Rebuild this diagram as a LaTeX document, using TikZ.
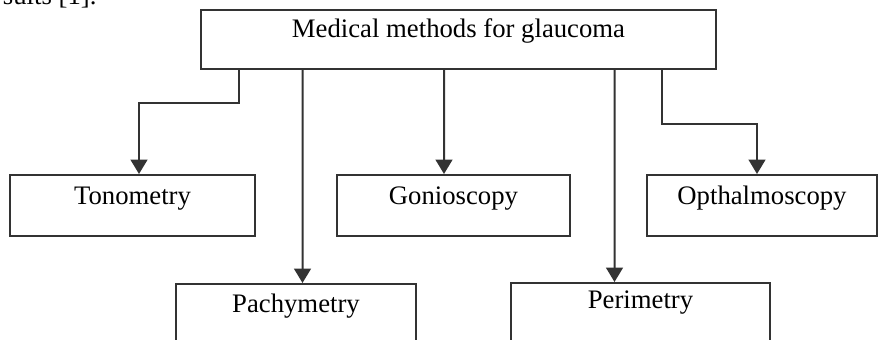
\documentclass[tikz,border=0pt]{standalone}
\usepackage{fontspec}
\setmainfont{Liberation Serif}
\usetikzlibrary{arrows.meta}

\begin{document}
\begin{tikzpicture}[
		methodbox/.style={rectangle, draw=black!80, line width=0.05cm, inner sep=0pt,
		minimum height=1.525cm, text height=0.75cm, text depth=0.775cm,
		font=\fontsize{19}{23}\selectfont},
		link/.style={line width=0.05cm, draw=black!80},
		arr/.style={link, -{Triangle[width=0.42cm, length=0.36cm]}},
		node distance=4.15cm
		]
		\useasboundingbox (0,0) rectangle (21.95,-8.5);
		\node[anchor=base west, font=\fontsize{19}{23}\selectfont] (prev) at (-0.05,-0.115) {sults [1].};
		
		\node[methodbox, minimum width=12.875cm, minimum height=1.475cm, text height=0.7cm](main) at (11.4625,-0.9875){Medical methods for glaucoma};
		\node[methodbox, minimum width=6.125cm, below of = main, xshift=-8.15cm](tono){Tonometry};
		\node[methodbox, minimum width=5.825cm, below of = main, xshift=-0.125cm](gonio){Gonioscopy};
		\node[methodbox, minimum width=5.75cm, below of = main, xshift=7.5875cm](opth){Opthalmoscopy};
		\node[methodbox, minimum width=6cm, below of = main, xshift=-4.0625cm, yshift=-2.725cm,
		text height=0.725cm, text depth=0.8cm](pachy){Pachymetry};
		\node[methodbox, minimum width=6.475cm, below of = main, xshift=4.55cm, yshift=-2.7cm,
		text height=0.65cm, text depth=0.875cm](peri){Perimetry};
		
		\draw[arr] ([xshift=-5.4875cm]main.south) -- ++(0,-0.825) -| ([xshift=0.1625cm]tono.north);
		\draw[arr] ([xshift=-3.9cm]main.south) -- ([xshift=0.1625cm]pachy.north);
		\draw[arr] ([xshift=-0.3625cm]main.south) -- ([xshift=-0.2375cm]gonio.north);
		\draw[arr] ([xshift=3.9cm]main.south) -- ([xshift=-0.65cm]peri.north);
		\draw[arr] ([xshift=5.0875cm]main.south) -- ++(0,-1.35) -| ([xshift=-0.125cm]opth.north);
	\end{tikzpicture}
\end{document}
